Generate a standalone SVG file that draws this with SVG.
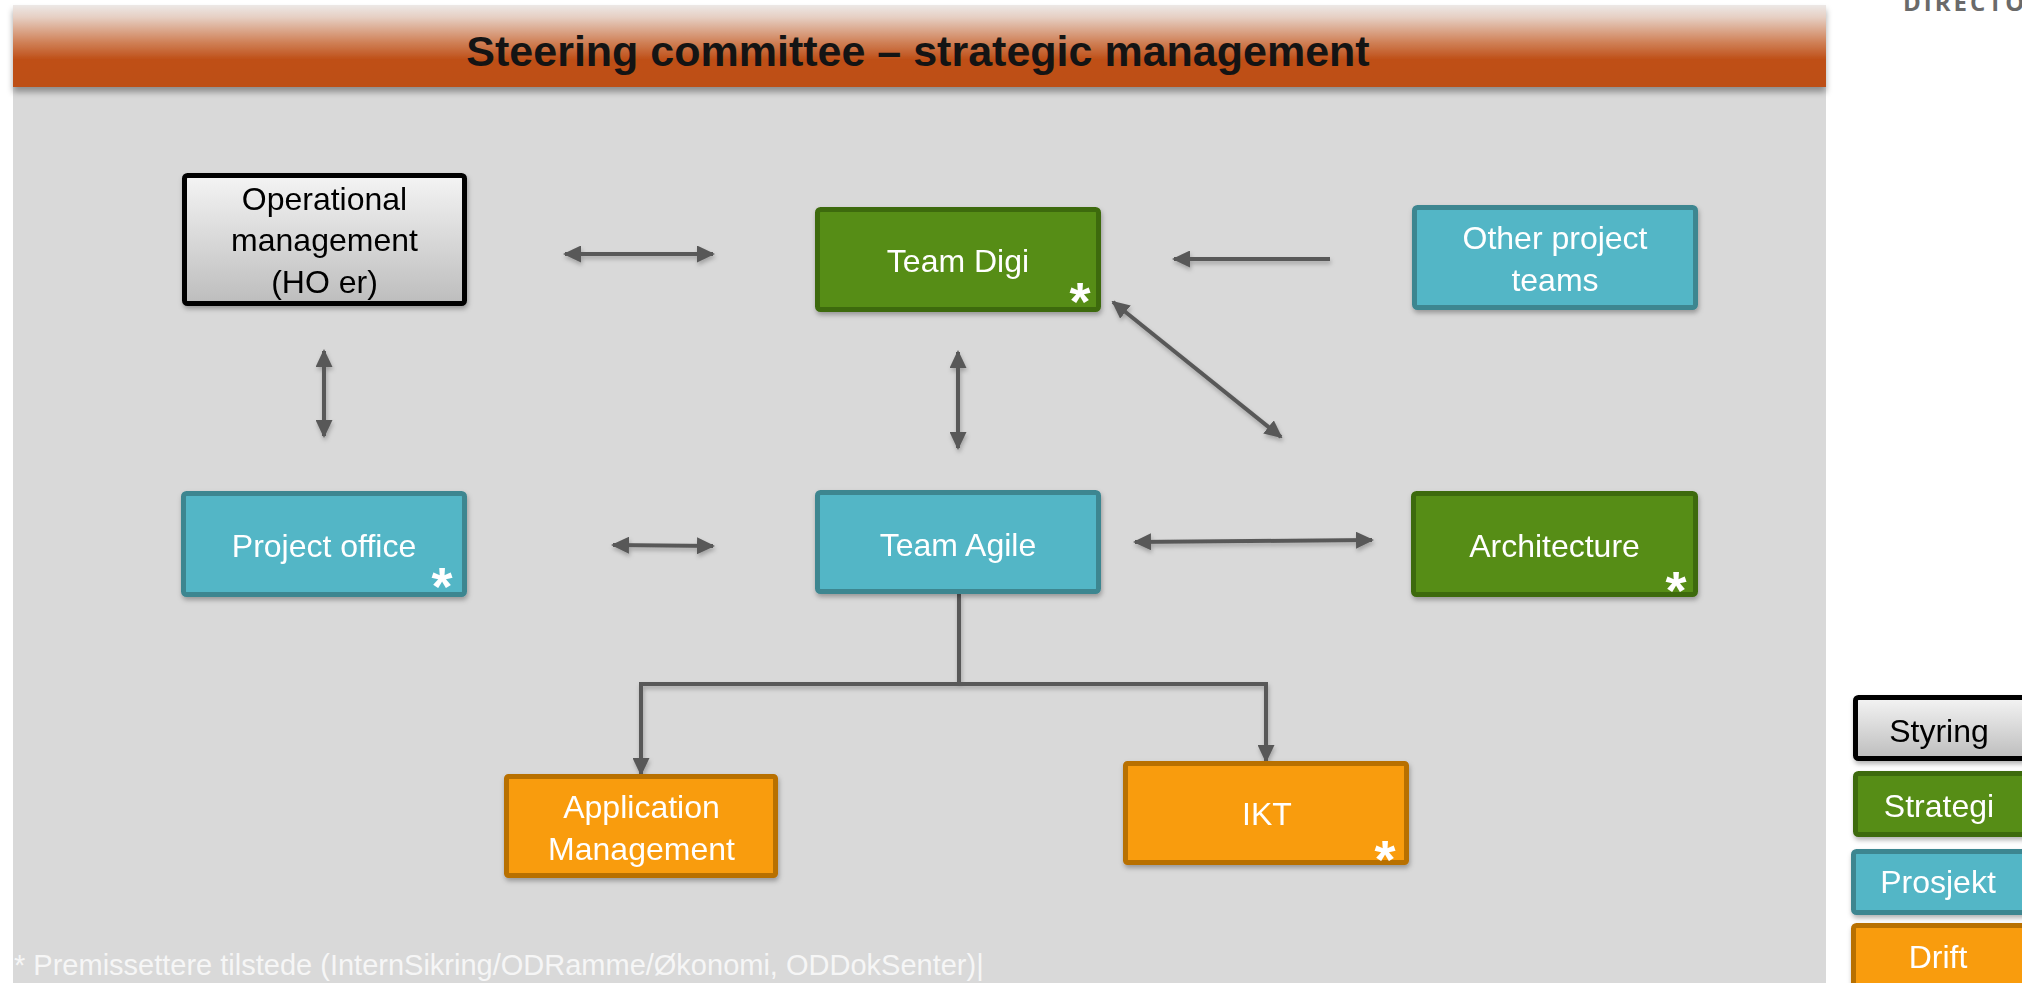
<svg xmlns="http://www.w3.org/2000/svg" width="2022" height="983" viewBox="0 0 2022 983">
  <defs>
    <linearGradient id="hdr" x1="0" y1="0" x2="0" y2="1">
      <stop offset="0" stop-color="#ece8e6"/>
      <stop offset="0.15" stop-color="#e6cfc3"/>
      <stop offset="0.45" stop-color="#d08259"/>
      <stop offset="0.66" stop-color="#bf5019"/>
      <stop offset="1" stop-color="#bd4f18"/>
    </linearGradient>
    <linearGradient id="grey" x1="0" y1="0" x2="0" y2="1">
      <stop offset="0" stop-color="#f4f4f4"/>
      <stop offset="1" stop-color="#bdbdbd"/>
    </linearGradient>
    <filter id="sh" x="-10%" y="-10%" width="130%" height="140%">
      <feDropShadow dx="1" dy="3" stdDeviation="2.5" flood-color="#000" flood-opacity="0.3"/>
    </filter>
    <filter id="hsh" x="-5%" y="-20%" width="110%" height="150%">
      <feDropShadow dx="0" dy="5" stdDeviation="3" flood-color="#000" flood-opacity="0.35"/>
    </filter>
    <filter id="lsh" filterUnits="userSpaceOnUse" x="0" y="0" width="2022" height="983">
      <feDropShadow dx="1" dy="3" stdDeviation="2" flood-color="#000" flood-opacity="0.25"/>
    </filter>
    <marker id="ah" viewBox="0 0 18 17" markerWidth="18" markerHeight="17" refX="16" refY="8.5" orient="auto-start-reverse" markerUnits="userSpaceOnUse">
      <path d="M0,0 L18,8.5 L0,17 z" fill="#595959"/>
    </marker>
    <style>
      .lbl { font-family: "Liberation Sans", Arial, sans-serif; font-size: 32px; text-anchor: middle; fill: #ffffff; }
      .dark { fill: #000000; }
      .ast { font-family: "Liberation Sans", Arial, sans-serif; font-size: 54px; font-weight: bold; text-anchor: middle; fill: #ffffff; }
      .green { fill: #578d14; stroke: #3d6a0c; stroke-width: 5; }
      .teal { fill: #53b6c6; stroke: #3e8690; stroke-width: 5; }
      .orange { fill: #f99c0e; stroke: #b86f06; stroke-width: 5; }
      .gray { fill: url(#grey); stroke: #000000; stroke-width: 5; }
      .conn { stroke: #595959; stroke-width: 4; fill: none; }
    </style>
  </defs>

  <rect x="0" y="0" width="2022" height="983" fill="#ffffff"/>
  <text x="1903" y="11" font-family="'Open Sans', 'Liberation Sans', sans-serif" font-size="24" font-weight="bold" fill="#6a6a6a" letter-spacing="3">DIRECTO</text>

  <rect id="panel" x="13" y="5" width="1813" height="990" fill="#d9d9d9"/>
  <g id="header">
    <rect x="13" y="5" width="1813" height="82" fill="url(#hdr)" filter="url(#hsh)"/>
    <text x="918" y="66" font-family="'Liberation Sans', Arial, sans-serif" font-size="43" font-weight="bold" text-anchor="middle" fill="#141414">Steering committee – strategic management</text>
  </g>

  <g id="connectors" filter="url(#lsh)">
    <line class="conn" x1="565" y1="254" x2="713" y2="254" marker-start="url(#ah)" marker-end="url(#ah)"/>
    <line class="conn" x1="1330" y1="259" x2="1174" y2="259" marker-end="url(#ah)"/>
    <line class="conn" x1="324" y1="351" x2="324" y2="436" marker-start="url(#ah)" marker-end="url(#ah)"/>
    <line class="conn" x1="958" y1="352" x2="958" y2="448" marker-start="url(#ah)" marker-end="url(#ah)"/>
    <line class="conn" x1="1113" y1="302" x2="1281" y2="437" marker-start="url(#ah)" marker-end="url(#ah)"/>
    <line class="conn" x1="613" y1="545" x2="713" y2="546" marker-start="url(#ah)" marker-end="url(#ah)"/>
    <line class="conn" x1="1135" y1="542" x2="1372" y2="540" marker-start="url(#ah)" marker-end="url(#ah)"/>
    <path class="conn" d="M959,594 V684 H641 V774" marker-end="url(#ah)"/>
    <path class="conn" d="M959,684 H1266 V761" marker-end="url(#ah)"/>
  </g>

  <g id="operational" filter="url(#sh)">
    <rect class="gray" x="184.5" y="175.5" width="280" height="128" rx="3"/>
    <text class="lbl dark" x="324.5" y="210">Operational</text>
    <text class="lbl dark" x="324.5" y="251">management</text>
    <text class="lbl dark" x="324.5" y="293">(HO er)</text>
  </g>
  <g id="team-digi" filter="url(#sh)">
    <rect class="green" x="817.5" y="209.5" width="281" height="100" rx="3"/>
    <text class="lbl" x="958" y="272">Team Digi</text>
    <text class="ast" x="1080" y="320">*</text>
  </g>
  <g id="other-teams" filter="url(#sh)">
    <rect class="teal" x="1414.5" y="207.5" width="281" height="100" rx="3"/>
    <text class="lbl" x="1555" y="249">Other project</text>
    <text class="lbl" x="1555" y="291">teams</text>
  </g>
  <g id="project-office" filter="url(#sh)">
    <rect class="teal" x="183.5" y="493.5" width="281" height="101" rx="3"/>
    <text class="lbl" x="324" y="557">Project office</text>
    <text class="ast" x="442" y="605">*</text>
  </g>
  <g id="team-agile" filter="url(#sh)">
    <rect class="teal" x="817.5" y="492.5" width="281" height="99" rx="3"/>
    <text class="lbl" x="958" y="556">Team Agile</text>
  </g>
  <g id="architecture" filter="url(#sh)">
    <rect class="green" x="1413.5" y="493.5" width="282" height="101" rx="3"/>
    <text class="lbl" x="1554.5" y="557">Architecture</text>
    <text class="ast" x="1676" y="609">*</text>
  </g>
  <g id="app-management" filter="url(#sh)">
    <rect class="orange" x="506.5" y="776.5" width="269" height="99" rx="2"/>
    <text class="lbl" x="641.5" y="818">Application</text>
    <text class="lbl" x="641.5" y="860">Management</text>
  </g>
  <g id="ikt" filter="url(#sh)">
    <rect class="orange" x="1125.5" y="763.5" width="281" height="99" rx="2"/>
    <text class="lbl" x="1267" y="825">IKT</text>
    <text class="ast" x="1385" y="878">*</text>
  </g>

  <text id="footnote" x="14" y="975" font-family="'Liberation Sans', Arial, sans-serif" font-size="29" fill="#f6f6f6">* Premissettere tilstede (InternSikring/ODRamme/Økonomi, ODDokSenter)|</text>

  <g id="legend">
    <g id="leg-styring" filter="url(#sh)">
      <rect class="gray" x="1855.5" y="697.5" width="180" height="61" rx="3"/>
      <text class="lbl dark" x="1939" y="742">Styring</text>
    </g>
    <g id="leg-strategi" filter="url(#sh)">
      <rect class="green" x="1855.5" y="773.5" width="180" height="61" rx="3"/>
      <text class="lbl" x="1939" y="817">Strategi</text>
    </g>
    <g id="leg-prosjekt" filter="url(#sh)">
      <rect class="teal" x="1853.5" y="851.5" width="180" height="61" rx="3"/>
      <text class="lbl" x="1938" y="893">Prosjekt</text>
    </g>
    <g id="leg-drift" filter="url(#sh)">
      <rect class="orange" x="1853.5" y="925.5" width="180" height="70" rx="3"/>
      <text class="lbl" x="1938" y="968">Drift</text>
    </g>
  </g>
</svg>
